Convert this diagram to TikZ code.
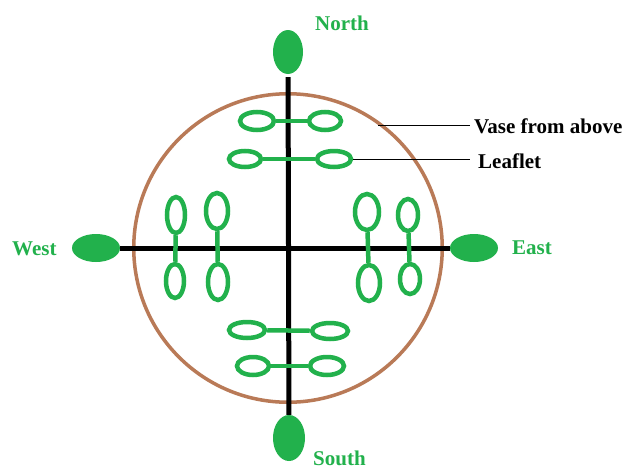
\documentclass[tikz,border=0pt]{standalone}
\usepackage{fontspec}
\setmainfont{Liberation Serif}
\usetikzlibrary{shapes.geometric}
\definecolor{lgreen}{HTML}{22B14C}
\definecolor{vbrown}{HTML}{B97A57}
\begin{document}
\begin{tikzpicture}[x=1pt,y=-1pt,
  leaf/.style={ellipse, draw=lgreen, line width=4.5pt, inner sep=0pt},
  stem/.style={draw=lgreen, line width=4.5pt},
  pole/.style={ellipse, fill=lgreen, inner sep=0pt},
  axis/.style={draw=black, line width=5pt},
  compass/.style={text=lgreen, font=\fontsize{21}{24}\selectfont\bfseries, inner sep=0pt, anchor=base west},
  label/.style={text=black, font=\fontsize{21}{24}\selectfont\bfseries, inner sep=0pt, anchor=base west},
  pointer/.style={draw=black, line width=1pt}]
\useasboundingbox[fill=white] (0,0) rectangle (633,469);
% vase
\node[circle, draw=vbrown, line width=3.5pt, minimum size=308.5pt, inner sep=0pt] (vase) at (288,248) {};
% compass ellipses
\node[pole, minimum width=30pt, minimum height=44pt] (N) at (288,52) {};
\node[pole, minimum width=32pt, minimum height=46pt] (S) at (289,438) {};
\node[pole, minimum width=48pt, minimum height=28pt] (W) at (96,248) {};
\node[pole, minimum width=48pt, minimum height=28pt] (E) at (474,248) {};
\draw[axis, shorten <=3pt] (N) -- (S);
\draw[axis] (W) -- (E);
% top leaflets
\node[leaf, minimum width=34pt, minimum height=18pt] (t1l) at (257,121) {};
\node[leaf, minimum width=32pt, minimum height=18pt] (t1r) at (325,121) {};
\node[leaf, minimum width=32pt, minimum height=16pt] (t2l) at (245,159) {};
\node[leaf, minimum width=34pt, minimum height=16pt] (t2r) at (334,159) {};
% bottom leaflets
\node[leaf, minimum width=36pt, minimum height=16pt] (b1l) at (247,330) {};
\node[leaf, minimum width=36pt, minimum height=16pt] (b1r) at (330,331) {};
\node[leaf, minimum width=32pt, minimum height=18pt] (b2l) at (253,366) {};
\node[leaf, minimum width=34pt, minimum height=18pt] (b2r) at (327,366) {};
% west leaflets
\node[leaf, minimum width=18pt, minimum height=36pt] (w1t) at (176,215) {};
\node[leaf, minimum width=18pt, minimum height=34pt] (w1b) at (175,281) {};
\node[leaf, minimum width=22pt, minimum height=36pt] (w2t) at (217,211) {};
\node[leaf, minimum width=20pt, minimum height=36pt] (w2b) at (218,282) {};
% east leaflets
\node[leaf, minimum width=24pt, minimum height=36pt] (e1t) at (367,212) {};
\node[leaf, minimum width=22pt, minimum height=36pt] (e1b) at (369,283) {};
\node[leaf, minimum width=20pt, minimum height=32pt] (e2t) at (408,215) {};
\node[leaf, minimum width=20pt, minimum height=30pt] (e2b) at (410,279) {};
% stems
\draw[stem] (t1l) -- (t1r);
\draw[stem] (t2l) -- (t2r);
\draw[stem] (b1l) -- (b1r);
\draw[stem] (b2l) -- (b2r);
\draw[stem] (w1t) -- (w1b);
\draw[stem] (w2t) -- (w2b);
\draw[stem] (e1t) -- (e1b);
\draw[stem] (e2t) -- (e2b);
% labels
\node[compass] (north) at (315,30) {North};
\node[compass] (south) at (313,465) {South};
\node[compass] (west) at (12,255) {West};
\node[compass] (east) at (512,254) {East};
\node[label] (vlab) at (474,133) {Vase from above};
\node[label] (llab) at (478,168) {Leaflet};
\coordinate (vpt) at (378,125);
\draw[pointer] (vpt) -- ([xshift=-4pt]vpt -| vlab.west);
\draw[pointer] (t2r.east) -- ([xshift=-8pt]t2r.east -| llab.west);
\end{tikzpicture}
\end{document}
